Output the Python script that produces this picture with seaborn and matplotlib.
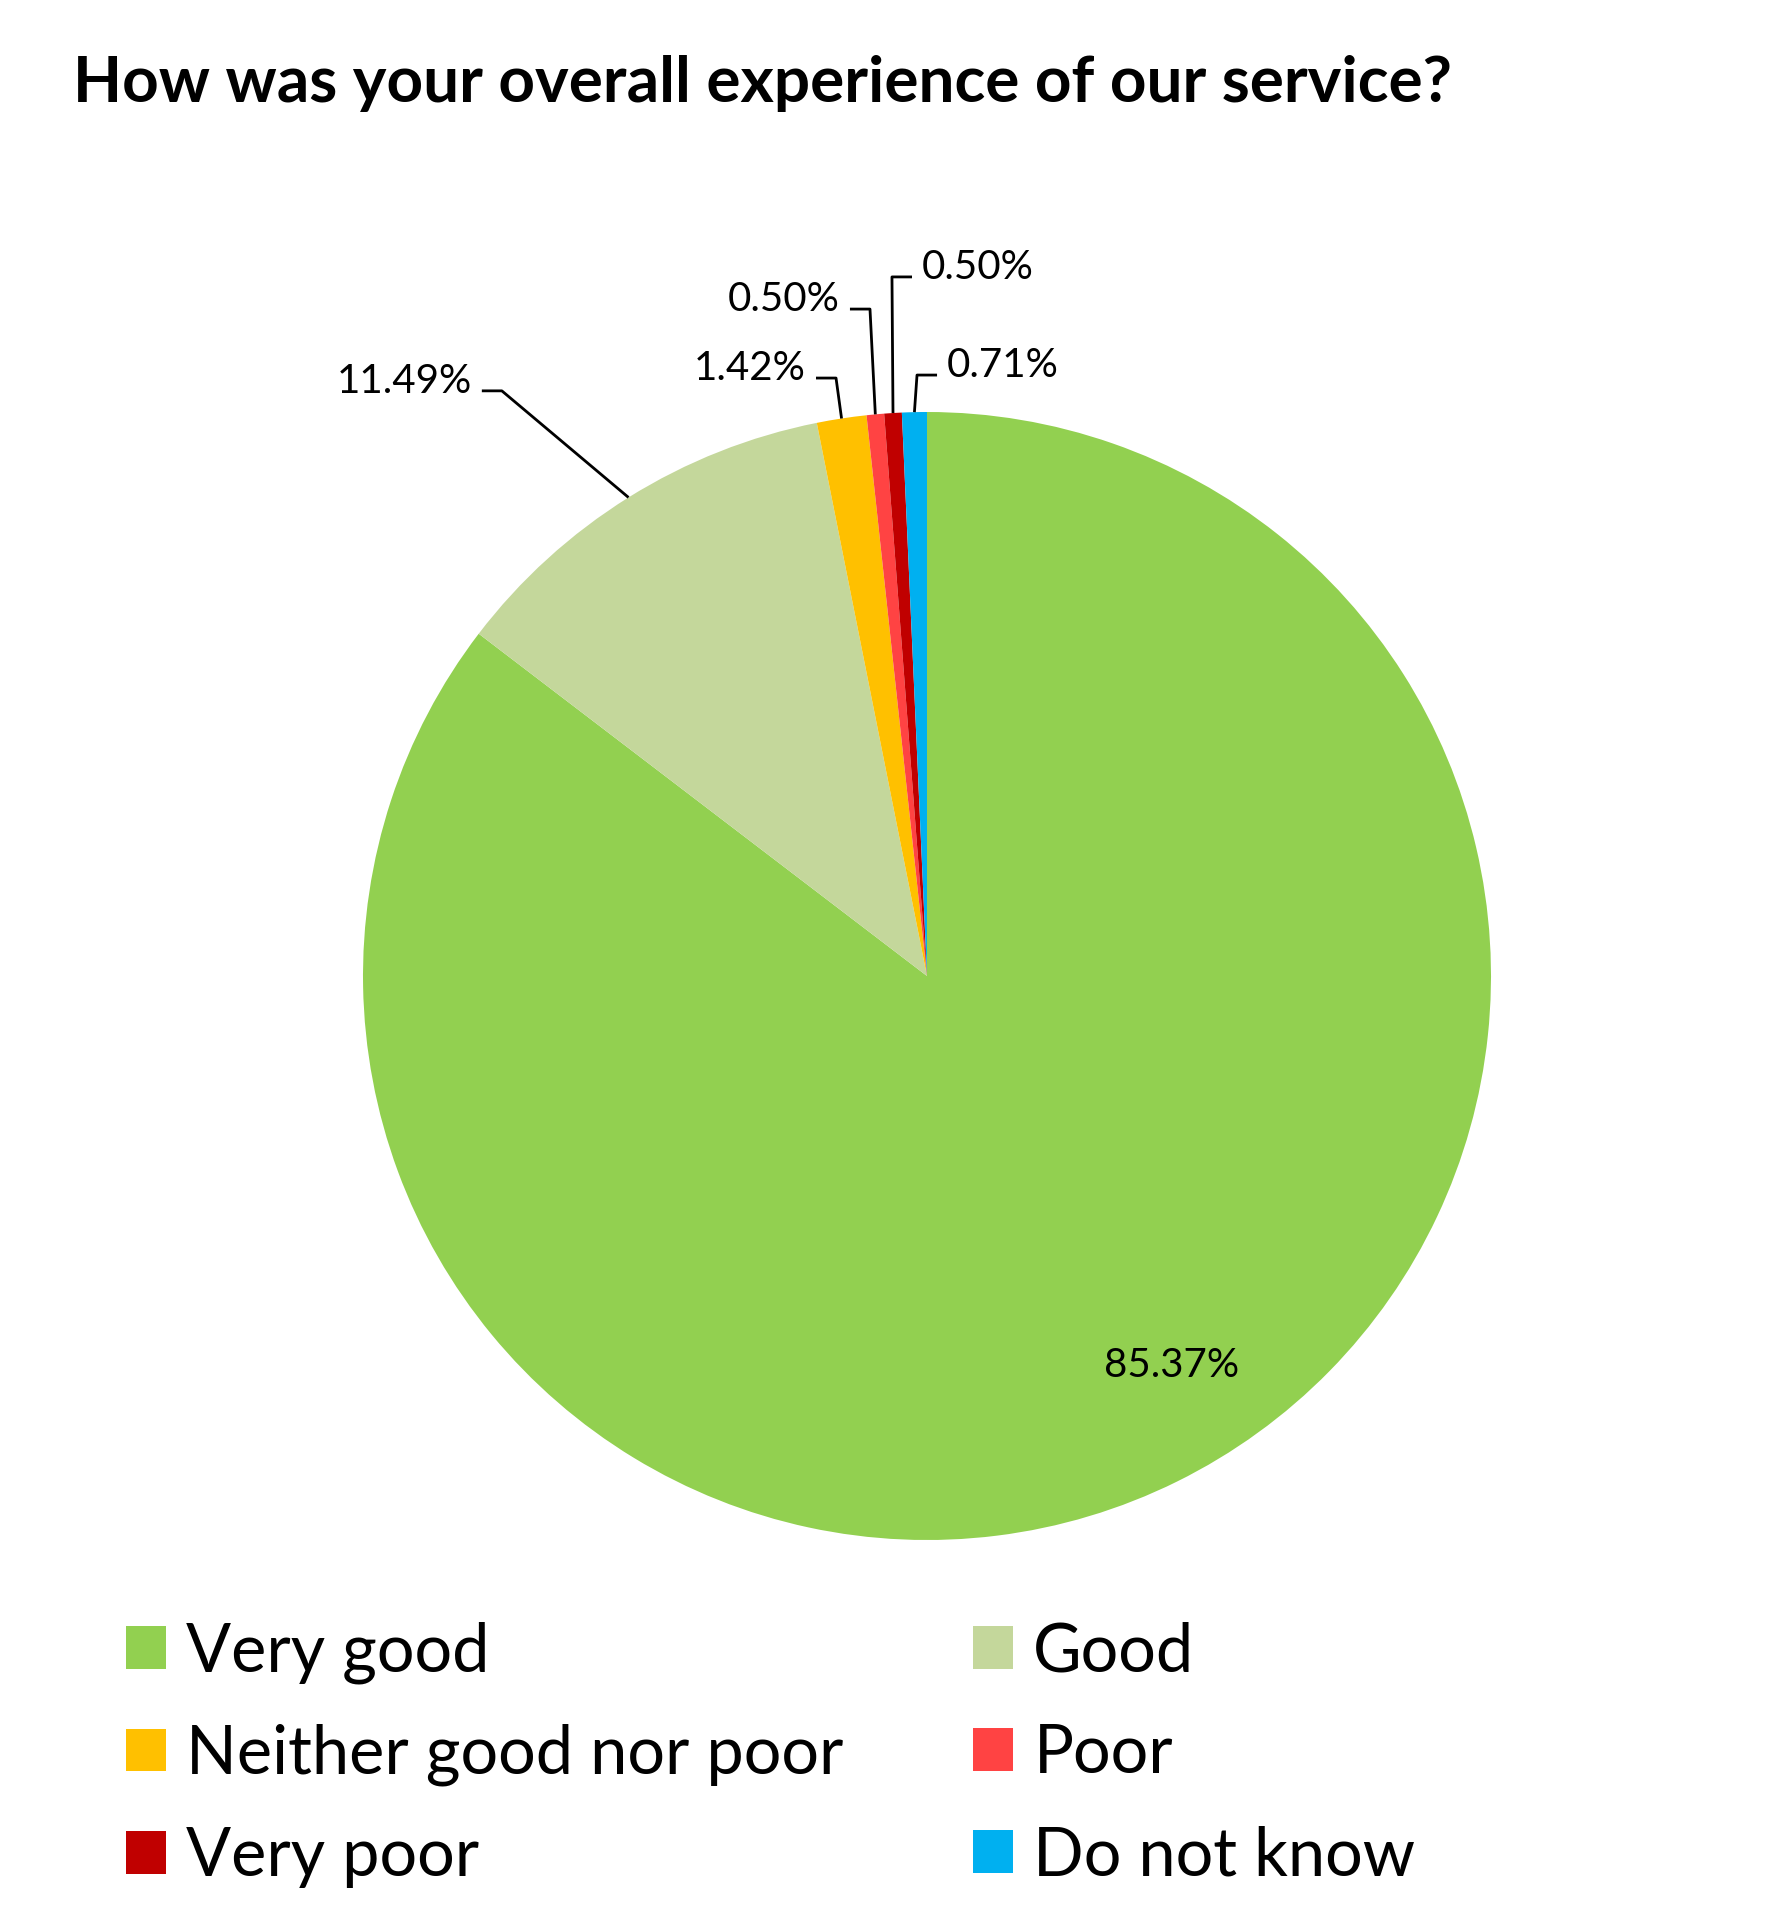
import numpy as np
import matplotlib
matplotlib.use("Agg")
import matplotlib.pyplot as plt
import seaborn as sns

# data
categories = ["Very good", "Good", "Neither good nor poor", "Poor", "Very poor", "Do not know"]
shares = [85.37, 11.49, 1.42, 0.50, 0.50, 0.71]
colors = ["#92D050", "#C4D79B", "#FFC000", "#FF4343", "#C00000", "#00B0F0"]
title = "How was your overall experience of our service?"

sns.set_theme(style="white")
plt.rcParams['font.family'] = ['Lato', 'DejaVu Sans']
plt.rcParams['text.color'] = 'black'

W, H = 1777, 1930
fig = plt.figure(figsize=(W / 100, H / 100), dpi=100)
fig.patch.set_facecolor("white")

# pie axes: centre (927, 976) px, radius 564 px
cx, cy, r = 927, 976, 564
ax = fig.add_axes([(cx - r) / W, (H - cy - r) / H, 2 * r / W, 2 * r / H])
wedges, _ = ax.pie(shares, colors=colors, startangle=90, counterclock=False,
                   radius=1, wedgeprops=dict(linewidth=0))
ax.set_xlim(-1, 1)
ax.set_ylim(-1, 1)
ax.set_aspect("equal")
ax.axis("off")

# label placement (data units, radius = 1): x, baseline y, alignment
label_pos = [
    (0.433, -0.711, "center"),
    (-0.807, 1.034, "right"),
    (-0.2145, 1.0567, "right"),
    (-0.1543, 1.179, "right"),
    (-0.0089, 1.236, "left"),
    (0.0355, 1.062, "left"),
]
gap, seg = 0.0177, 0.0355

for i, (w, v) in enumerate(zip(wedges, shares)):
    tx, ty, ha = label_pos[i]
    ax.text(tx, ty, f"{v:.2f}%", ha=ha, va="baseline", fontsize=29,
            color="black", clip_on=False)
    if i == 0:
        continue
    # leader line: short horizontal next to the label, then to the wedge edge
    mid = np.deg2rad((w.theta1 + w.theta2) / 2)
    ex, ey = np.cos(mid), np.sin(mid)
    if ha == "right":
        x0, x1 = tx + gap, tx + gap + seg
    else:
        x0, x1 = tx - gap, tx - gap - seg
    ly = ty + 0.0035
    ax.plot([x0, x1, ex], [ly, ly, ey], color="black", lw=2, clip_on=False,
            solid_capstyle="butt")

fig.text(73 / W, 1 - 102 / H, title, fontsize=46, fontweight="bold",
         color="black", ha="left", va="baseline")

order = [0, 2, 4, 1, 3, 5]
leg = fig.legend([wedges[i] for i in order], [categories[i] for i in order],
                 ncol=2, loc="upper left", bbox_to_anchor=(126 / W, 1 - 1621 / H),
                 frameon=False, fontsize=48, handlelength=0.6, handleheight=0.6,
                 handletextpad=0.3, columnspacing=1.95, labelspacing=0.6,
                 borderpad=0, borderaxespad=0)
for t in leg.get_texts():
    t.set_color("black")

fig.savefig("out.png", dpi=100, facecolor="white")
